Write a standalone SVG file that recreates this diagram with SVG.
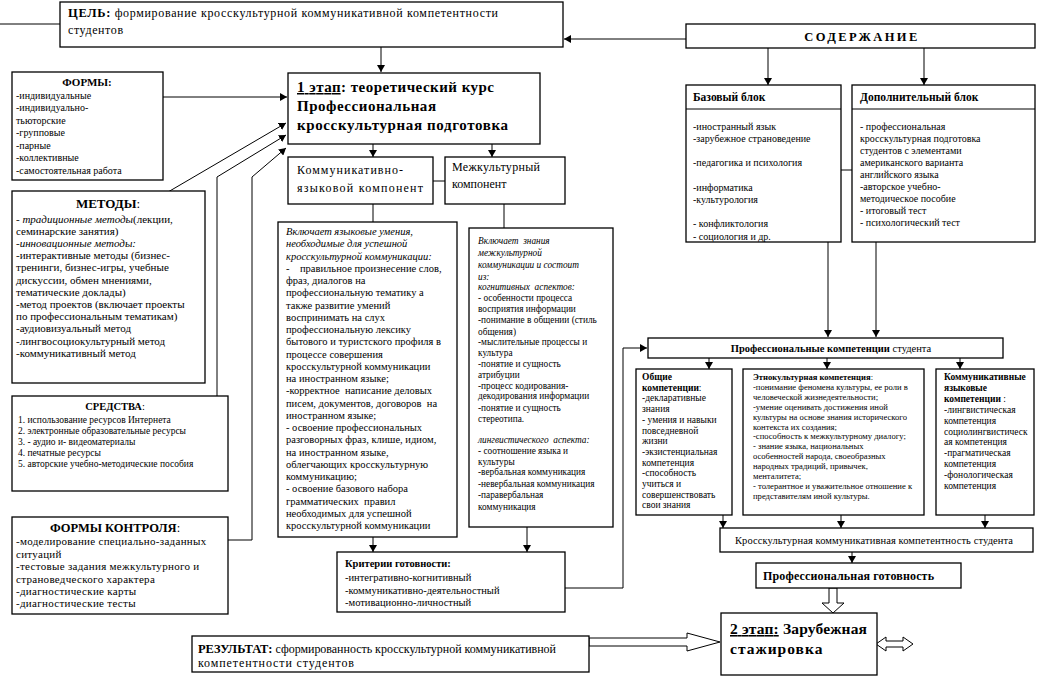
<svg xmlns="http://www.w3.org/2000/svg" width="1045" height="676" viewBox="0 0 1045 676" font-family="Liberation Serif, DejaVu Serif, serif">
<defs>
<marker id="ah" markerWidth="7" markerHeight="8" refX="7" refY="4" orient="auto" markerUnits="userSpaceOnUse"><path d="M0,0 L7,4 L0,8 z" fill="#000"/></marker>
</defs>
<style>
.b{fill:#fff;stroke:#000;stroke-width:1.3}
.c{fill:none;stroke:#000;stroke-width:1}
.h{fill:#fff;stroke:#000;stroke-width:1}
text{font-family:'Liberation Serif','DejaVu Serif',serif;fill:#000}
.bd{font-weight:bold}
.it{font-style:italic}
.s105{font-size:10.5px}
.s10{font-size:10px}
.s9{font-size:9.3px}
.s95{font-size:9.5px}
.s84{font-size:8.6px}
.s11{font-size:11px}
</style>
<rect width="1045" height="676" fill="#fff"/>

<g id="connectors">
<path class="c" d="M0,24 H60"/>
<path class="c" d="M381,47 V72" marker-end="url(#ah)"/>
<path class="c" d="M686,39 H564" marker-end="url(#ah)"/>
<path class="c" d="M768,48 V85" marker-end="url(#ah)"/>
<path class="c" d="M924,48 V85" marker-end="url(#ah)"/>
<path class="c" d="M841,170 H852"/>
<path class="c" d="M828,242 V337" marker-end="url(#ah)"/>
<path class="c" d="M876,242 V337" marker-end="url(#ah)"/>
<path class="c" d="M163,97 H287" marker-end="url(#ah)"/>
<path class="c" d="M168,192 L286,123" marker-end="url(#ah)"/>
<path class="c" d="M217,396 V177 L286,135" marker-end="url(#ah)"/>
<path class="c" d="M228,540 H252 V177 L286,148" marker-end="url(#ah)"/>
<path class="c" d="M373,144 V157" marker-end="url(#ah)"/>
<path class="c" d="M492,144 V157" marker-end="url(#ah)"/>
<path class="c" d="M433,181 H445"/>
<path class="c" d="M373,204 V222"/>
<path class="c" d="M504,204 V228"/>
<path class="c" d="M373,537 V552" marker-end="url(#ah)"/>
<path class="c" d="M527,527 V552" marker-end="url(#ah)"/>
<path class="c" d="M565,588 H623 V348 H647" marker-end="url(#ah)"/>
<path class="c" d="M709,358 V369" marker-end="url(#ah)"/>
<path class="c" d="M827,358 V369" marker-end="url(#ah)"/>
<path class="c" d="M960,358 V369" marker-end="url(#ah)"/>
<path class="c" d="M723,515 V528" marker-end="url(#ah)"/>
<path class="c" d="M841,515 V528" marker-end="url(#ah)"/>
<path class="c" d="M985,515 V528" marker-end="url(#ah)"/>
<path class="c" d="M852,552 V563" marker-end="url(#ah)"/>
<polygon class="h" points="829,588 837,588 837,603 844,603 833,613 822,603 829,603"/>
<polygon class="h" points="589,638 687,638 687,633 720,642 687,651 687,646 589,646"/>
<polygon class="h" points="876,644 886,637 886,641 903,641 903,637 913,644 903,651 903,647 886,647 886,651"/>
</g>

<g id="goal">
<rect class="b" x="60" y="2" width="503" height="45"/>
<text x="68" y="17" font-size="12" textLength="430" lengthAdjust="spacing"><tspan class="bd" font-size="12.5">ЦЕЛЬ:</tspan> формирование кросскультурной коммуникативной компетентности</text>
<text x="68" y="34" font-size="12" letter-spacing="0.6">студентов</text>
</g>

<g id="content">
<rect class="b" x="686" y="24" width="349" height="24"/>
<text x="862" y="41" font-size="12.5" class="bd" text-anchor="middle" letter-spacing="2.4">СОДЕРЖАНИЕ</text>
</g>

<g id="base-block">
<rect class="b" x="686" y="85" width="155" height="157"/>
<path class="c" d="M686,109 H841"/>
<text x="693" y="101" font-size="11.5" class="bd">Базовый блок</text>
<g class="s10">
<text x="693" y="129.5">-иностранный язык</text>
<text x="693" y="141.5">-зарубежное страноведение</text>
<text x="693" y="165.5">-педагогика и психология</text>
<text x="693" y="190.5">-информатика</text>
<text x="693" y="202.5">-культурология</text>
<text x="693" y="226.5">- конфликтология</text>
<text x="693" y="239.5">- социология и др.</text>
</g>
</g>

<g id="extra-block">
<rect class="b" x="852" y="85" width="183" height="157"/>
<path class="c" d="M852,109 H1035"/>
<text x="860" y="101" font-size="11.5" class="bd">Дополнительный блок</text>
<g class="s10">
<text x="860" y="129.5">- профессиональная</text>
<text x="860" y="141.5">кросскультурная подготовка</text>
<text x="860" y="153.5">студентов с элементами</text>
<text x="860" y="165.5">американского варианта</text>
<text x="860" y="177.5">английского языка</text>
<text x="860" y="189.5">-авторское учебно-</text>
<text x="860" y="201.5">методическое пособие</text>
<text x="860" y="214">- итоговый тест</text>
<text x="860" y="225.5">- психологический тест</text>
</g>
</g>

<g id="forms">
<rect class="b" x="12" y="72" width="151" height="108"/>
<text x="87" y="86" font-size="11" class="bd" text-anchor="middle">ФОРМЫ:</text>
<g class="s10">
<text x="16" y="98.5">-индивидуальные</text>
<text x="16" y="111">-индивидуально-</text>
<text x="16" y="123.5">тьюторские</text>
<text x="16" y="136">-групповые</text>
<text x="16" y="148.5">-парные</text>
<text x="16" y="161">-коллективные</text>
<text x="16" y="173.5">-самостоятельная работа</text>
</g>
</g>

<g id="methods">
<rect class="b" x="12" y="191" width="193" height="192"/>
<text x="108" y="208" font-size="13" text-anchor="middle"><tspan class="bd">МЕТОДЫ</tspan>:</text>
<g class="s11">
<text x="16" y="223">- <tspan class="it">традиционные методы</tspan>(лекции,</text>
<text x="16" y="235">семинарские занятия)</text>
<text x="16" y="247" class="it"> -инновационные методы:</text>
<text x="16" y="259">-интерактивные методы (бизнес-</text>
<text x="16" y="271">тренинги, бизнес-игры, учебные</text>
<text x="16" y="284">дискуссии, обмен мнениями,</text>
<text x="16" y="296">тематические доклады)</text>
<text x="16" y="308">-метод проектов (включает проекты</text>
<text x="16" y="320">по профессиональным тематикам)</text>
<text x="16" y="332">-аудиовизуальный метод</text>
<text x="16" y="345">-лингвосоциокультурный метод</text>
<text x="16" y="357">-коммуникативный метод</text>
</g>
</g>

<g id="means">
<rect class="b" x="12" y="396" width="216" height="95"/>
<text x="115" y="410" font-size="10.5" text-anchor="middle"><tspan class="bd">СРЕДСТВА</tspan>:</text>
<g class="s95">
<text x="18" y="422.5">1. использование ресурсов  Интернета</text>
<text x="18" y="433.5">2. электронные образовательные ресурсы</text>
<text x="18" y="444.5">3. - аудио и- видеоматериалы</text>
<text x="18" y="455.5">4. печатные  ресурсы</text>
<text x="18" y="466.5">5. авторские учебно-методические пособия</text>
</g>
</g>

<g id="control">
<rect class="b" x="12" y="517" width="216" height="97"/>
<text x="115" y="532" font-size="12.5" text-anchor="middle"><tspan class="bd">ФОРМЫ КОНТРОЛЯ</tspan>:</text>
<g font-size="11" letter-spacing="0.3">
<text x="16" y="545">-моделирование специально-заданных</text>
<text x="16" y="558">ситуаций</text>
<text x="16" y="570">-тестовые  задания межкультурного и</text>
<text x="16" y="583">страноведческого характера</text>
<text x="16" y="595">-диагностические карты</text>
<text x="16" y="607">-диагностические тесты</text>
</g>
</g>

<g id="stage1">
<rect class="b" x="288" y="73" width="252" height="71"/>
<g font-size="15" class="bd">
<text x="297" y="92" textLength="197" lengthAdjust="spacing"><tspan text-decoration="underline">1 этап</tspan>:  теоретический курс</text>
<text x="297" y="111" textLength="139" lengthAdjust="spacing">Профессиональная</text>
<text x="297" y="130" textLength="211" lengthAdjust="spacing">кросскультурная подготовка</text>
</g>
</g>

<g id="comp-lang">
<rect class="b" x="288" y="157" width="145" height="47"/>
<text x="297" y="174" font-size="12" textLength="106" lengthAdjust="spacing">Коммуникативно-</text>
<text x="297" y="192" font-size="12" textLength="126" lengthAdjust="spacing">языковой компонент</text>
</g>

<g id="comp-intercult">
<rect class="b" x="445" y="157" width="120" height="47"/>
<text x="452" y="171" font-size="12" textLength="88" lengthAdjust="spacing">Межкультурный</text>
<text x="452" y="188" font-size="12">компонент</text>
</g>

<g id="lang-detail">
<rect class="b" x="278" y="222" width="179" height="315"/>
<g class="s105">
<text x="286" y="235" class="it">Включает языковые  умения,</text>
<text x="286" y="247.3" class="it">необходимые для успешной</text>
<text x="286" y="259.5" class="it">кросскультурной коммуникации:</text>
<text x="286" y="271.8" xml:space="preserve">-    правильное произнесение слов,</text>
<text x="286" y="284">фраз, диалогов на</text>
<text x="286" y="296.3">профессиональную тематику а</text>
<text x="286" y="308.5">также развитие умений</text>
<text x="286" y="320.8">воспринимать на слух</text>
<text x="286" y="333">профессиональную лексику</text>
<text x="286" y="345.3">бытового и туристского профиля в</text>
<text x="286" y="357.5">процессе совершения</text>
<text x="286" y="369.8">кросскультурной коммуникации</text>
<text x="286" y="382">на иностранном языке;</text>
<text x="286" y="394.3" xml:space="preserve">-корректное  написание деловых</text>
<text x="286" y="406.5" xml:space="preserve">писем, документов, договоров  на</text>
<text x="286" y="418.8">иностранном языке;</text>
<text x="286" y="431">- освоение профессиональных</text>
<text x="286" y="443.3">разговорных фраз, клише, идиом,</text>
<text x="286" y="455.5">на иностранном языке,</text>
<text x="286" y="467.8">облегчающих кросскультурную</text>
<text x="286" y="480">коммуникацию;</text>
<text x="286" y="492.3">- освоение базового набора</text>
<text x="286" y="504.5" xml:space="preserve">грамматических  правил</text>
<text x="286" y="516.8">необходимых для успешной</text>
<text x="286" y="529">кросскультурной коммуникации</text>
</g>
</g>

<g id="intercult-detail">
<rect class="b" x="469" y="228" width="144" height="299"/>
<g class="s9">
<text x="478" y="244.2" class="it" xml:space="preserve">Включает  знания</text>
<text x="478" y="255.8" class="it">межкультурной</text>
<text x="478" y="267.8" class="it">коммуникации и состоит</text>
<text x="478" y="279.5" class="it">из:</text>
<text x="478" y="290.2" class="it" xml:space="preserve">когнитивных  аспектов:</text>
<text x="478" y="301.2">- особенности процесса</text>
<text x="478" y="311.8">восприятия информации</text>
<text x="478" y="322.8">-понимание в общении (стиль</text>
<text x="478" y="334.5">общения)</text>
<text x="478" y="345.2">-мыслительные процессы и</text>
<text x="478" y="356.2">культура</text>
<text x="478" y="366.8">-понятие и сущность</text>
<text x="478" y="377.8">атрибуции</text>
<text x="478" y="388.5">-процесс кодирования-</text>
<text x="478" y="399.2">декодирования информации</text>
<text x="478" y="410.8">-понятие и сущность</text>
<text x="478" y="421.8">стереотипа.</text>
<text x="478" y="442.8" class="it" xml:space="preserve">лингвистического  аспекта:</text>
<text x="478" y="453.5">- соотношение языка и</text>
<text x="478" y="464.5">культуры</text>
<text x="478" y="475.2">-вербальная коммуникация</text>
<text x="478" y="486.8">-невербальная коммуникация</text>
<text x="478" y="497.5">-паравербальная</text>
<text x="478" y="509.5">коммуникация</text>
</g>
</g>

<g id="criteria">
<rect class="b" x="337" y="552" width="228" height="60"/>
<text x="345" y="567" font-size="10.5" class="bd">Критерии готовности:</text>
<g class="s105">
<text x="345" y="581">-интегративно-когнитивный</text>
<text x="345" y="593.5">-коммуникативно-деятельностный</text>
<text x="345" y="606">-мотивационно-личностный</text>
</g>
</g>

<g id="prof-comp">
<rect class="b" x="648" y="338" width="355" height="20"/>
<text x="831" y="352" font-size="10.5" text-anchor="middle"><tspan class="bd">Профессиональные компетенции</tspan> студента</text>
</g>

<g id="general-comp">
<rect class="b" x="636" y="369" width="96" height="146"/>
<g class="s95">
<text x="642" y="380" class="bd">Общие</text>
<text x="642" y="390.7"><tspan class="bd">компетенции</tspan>:</text>
<text x="642" y="401.4">-декларативные</text>
<text x="642" y="412.1">знания</text>
<text x="642" y="422.8">- умения и навыки</text>
<text x="642" y="433.5">повседневной</text>
<text x="642" y="444.2">жизни</text>
<text x="642" y="454.9">-экзистенциальная</text>
<text x="642" y="465.6">компетенция</text>
<text x="642" y="476.3">-способность</text>
<text x="642" y="487">учиться и</text>
<text x="642" y="497.7">совершенствовать</text>
<text x="642" y="508.4">свои знания</text>
</g>
</g>

<g id="ethno-comp">
<rect class="b" x="743" y="369" width="181" height="146"/>
<g class="s84">
<text x="753" y="380"><tspan class="bd">Этнокультурная компетенция</tspan>:</text>
<text x="753" y="389.9">-понимание феномена культуры, ее роли в</text>
<text x="753" y="399.8">человеческой жизнедеятельности;</text>
<text x="753" y="409.7">-умение оценивать достижения иной</text>
<text x="753" y="419.6">культуры на основе знания исторического</text>
<text x="753" y="429.5">контекста их создания;</text>
<text x="753" y="439.4">-способность к межкультурному диалогу;</text>
<text x="753" y="449.3">- знание языка, национальных</text>
<text x="753" y="459.2">особенностей народа, своеобразных</text>
<text x="753" y="469.1">народных традиций, привычек,</text>
<text x="753" y="479">менталитета;</text>
<text x="753" y="488.9">- толерантное и уважительное отношение к</text>
<text x="753" y="498.8">представителям иной культуры.</text>
</g>
</g>

<g id="comm-comp">
<rect class="b" x="936" y="369" width="98" height="146"/>
<g class="s95">
<text x="944" y="380" class="bd">Коммуникативные</text>
<text x="944" y="390.9" class="bd">языковые</text>
<text x="944" y="401.8"><tspan class="bd">компетенции</tspan> :</text>
<text x="944" y="412.7">-лингвистическая</text>
<text x="944" y="423.6">компетенция</text>
<text x="944" y="434.5">социолингвистическ</text>
<text x="944" y="445.4">ая компетенция</text>
<text x="944" y="456.3">-прагматическая</text>
<text x="944" y="467.2">компетенция</text>
<text x="944" y="478.1">-фонологическая</text>
<text x="944" y="489">компетенция</text>
</g>
</g>

<g id="crosscult">
<rect class="b" x="720" y="528" width="313" height="24"/>
<text x="735" y="544" font-size="10.5" textLength="278" lengthAdjust="spacing">Кросскультурная коммуникативная компетентность студента</text>
</g>

<g id="readiness">
<rect class="b" x="756" y="563" width="205" height="25"/>
<text x="763" y="580" font-size="12" class="bd" textLength="171" lengthAdjust="spacing">Профессиональная готовность</text>
</g>

<g id="stage2">
<rect class="b" x="721" y="613" width="156" height="62"/>
<g font-size="15.5" class="bd">
<text x="730" y="634" textLength="137" lengthAdjust="spacing"><tspan text-decoration="underline">2 этап:</tspan> Зарубежная</text>
<text x="730" y="654" letter-spacing="1">стажировка</text>
</g>
</g>

<g id="result">
<rect class="b" x="192" y="636" width="397" height="36"/>
<text x="198" y="652.5" font-size="12" textLength="358" lengthAdjust="spacing"><tspan class="bd" font-size="12.5">РЕЗУЛЬТАТ:</tspan> сформированность кросскультурной коммуникативной</text>
<text x="198" y="667" font-size="12" textLength="156" lengthAdjust="spacing">компетентности студентов</text>
</g>
</svg>
